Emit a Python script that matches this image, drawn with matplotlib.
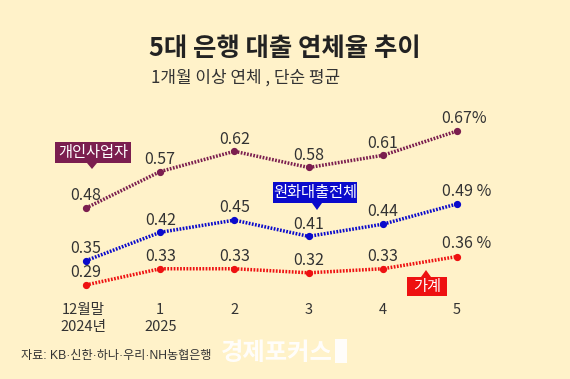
import matplotlib
matplotlib.use("Agg")
import matplotlib.pyplot as plt
from matplotlib.patches import Polygon, Rectangle

plt.rcParams['font.family'] = ['Noto Sans CJK KR', 'DejaVu Sans']

# ---- data ----
periods = ["12월말\n2024년", "1\n2025", "2", "3", "4", "5"]
biz = [0.48, 0.57, 0.62, 0.58, 0.61, 0.67]        # 개인사업자
total = [0.35, 0.42, 0.45, 0.41, 0.44, 0.49]      # 원화대출전체
house = [0.29, 0.33, 0.33, 0.32, 0.33, 0.36]      # 가계
last_labels = {"biz": "0.67%", "total": "0.49 %", "house": "0.36 %"}

title = "5대 은행 대출 연체율 추이"
subtitle = "1개월 이상 연체 , 단순 평균"
source = "자료: KB·신한·하나·우리·NH농협은행"

BG = "#FFF2C9"
C_BIZ = "#7B1E4F"
C_TOT = "#0A0ACC"
C_HOU = "#EE1111"
TXT = "#333333"

W, H = 570, 379
fig = plt.figure(figsize=(W / 100, H / 100), dpi=100, facecolor=BG)
ax = fig.add_axes([0, 0, 1, 1])
ax.set_facecolor(BG)
ax.axis("off")

x = list(range(len(periods)))
# map: x=0 -> px 86, step 74.2 px; y: px = 208 + (0.48 - v)*405
step = 74.2
ax.set_xlim(-86 / step, (W - 86) / step)
ax.set_ylim(0.48 - (H - 208) / 405, 0.48 + 208 / 405)


def px(xp, yp):
    return xp / W, 1 - yp / H


for vals, col, key in [(biz, C_BIZ, "biz"), (total, C_TOT, "total"), (house, C_HOU, "house")]:
    ax.plot(x, vals, color=col, lw=2.5, dashes=(0.5, 0.42), solid_capstyle="butt",
            dash_capstyle="butt", zorder=3)
    ax.plot(x, vals, 'o', color=col, ms=4.2, zorder=4)
    for i, v in enumerate(vals):
        if i == len(vals) - 1:
            ax.annotate(last_labels[key], (x[i], v), xytext=(-11, 9.3),
                        textcoords="offset points", ha="left", va="center",
                        fontsize=11.5, color=TXT)
        else:
            ax.annotate(f"{v:.2f}", (x[i], v), xytext=(0, 8.8),
                        textcoords="offset points", ha="center", va="center",
                        fontsize=11.5, color=TXT)

# title & subtitle
fig.text(*px(285, 48), title, ha="center", va="center", fontsize=18.3,
         fontweight="bold", color="#222222")
fig.text(*px(151, 78), subtitle, ha="left", va="center", fontsize=12.2, color=TXT)

# x tick labels
for i, lab in enumerate(periods):
    lines = lab.split("\n")
    xi = x[i] - (0.04 if i == 0 else 0)
    xf = ax.transData.transform((xi, 0))[0] / W
    fig.text(xf, 1 - 310 / H, lines[0], ha="center", va="center", fontsize=10.5, color=TXT)
    if len(lines) > 1:
        fig.text(xf, 1 - 327 / H, lines[1], ha="center", va="center", fontsize=10.5, color=TXT)

# source
fig.text(*px(21, 356), source, ha="left", va="center", fontsize=8.7, color=TXT,
         family=['Liberation Sans', 'Noto Sans CJK KR'])

# watermark
fig.text(*px(221, 353), "경제포커스", ha="left", va="center", fontsize=17.5,
         fontweight="bold", color="white", alpha=0.92)
fig.patches.append(Rectangle(px(335, 363), 12 / W, 24 / H, transform=fig.transFigure,
                             facecolor="white", alpha=0.92, edgecolor="none"))


# callout boxes
def callout(x0, y0, x1, y1, tipx, tipy, text, col, up=False):
    fig.patches.append(Rectangle(px(x0, y1), (x1 - x0) / W, (y1 - y0) / H,
                                 transform=fig.transFigure, facecolor=col, edgecolor="none",
                                 zorder=5))
    base = y0 if up else y1
    tri = [px(tipx - 5, base), px(tipx + 5, base), px(tipx, tipy)]
    fig.patches.append(Polygon(tri, closed=True, transform=fig.transFigure,
                               facecolor=col, edgecolor="none", zorder=5))
    fig.text(*px((x0 + x1) / 2, (y0 + y1) / 2), text, ha="center", va="center",
             fontsize=11, color="white", zorder=6)


callout(55, 142, 131, 163, 92, 169, "개인사업자", C_BIZ)
callout(273, 182, 357, 203, 317, 210, "원화대출전체", C_TOT)
callout(407, 277, 447, 296, 426, 270, "가계", C_HOU, up=True)

fig.savefig("out.png", dpi=100, facecolor=BG)
